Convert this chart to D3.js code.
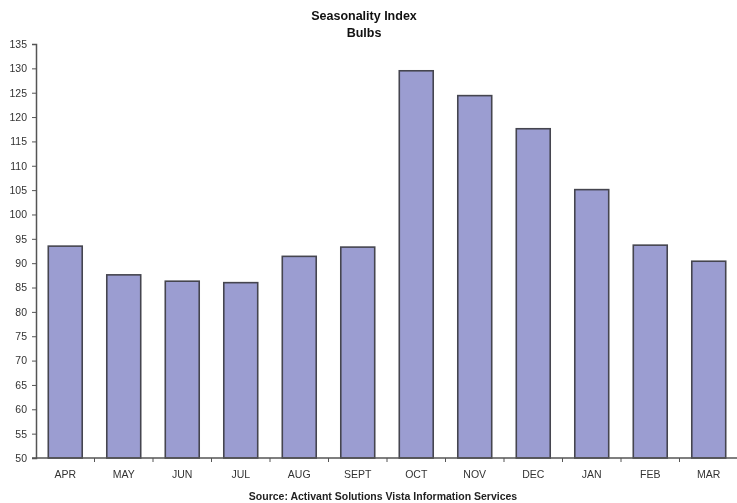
<!DOCTYPE html>
<html>
<head>
<meta charset="utf-8">
<script src="https://cdn.jsdelivr.net/npm/d3@7"></script>
<style>
  html, body { margin: 0; padding: 0; background: #fff; }
  svg { display: block; font-family: "Liberation Sans", Arial, sans-serif; filter: blur(0.45px); }
</style>
</head>
<body>
<svg id="chart" width="737" height="503"></svg>
<script>
// Seasonality index for bulbs, by month of the fiscal year
const months = ["APR", "MAY", "JUN", "JUL", "AUG", "SEPT", "OCT", "NOV", "DEC", "JAN", "FEB", "MAR"];
const indexValues = [93.5, 87.6, 86.3, 86.0, 91.4, 93.3, 129.5, 124.4, 117.6, 105.1, 93.7, 90.4];
const yTicks = d3.range(50, 136, 5);

const titleLines = ["Seasonality Index", "Bulbs"];
const sourceText = "Source:  Activant Solutions Vista Information Services";

const svg = d3.select("#chart");
const margin = { top: 44, left: 36, bottom: 45 };
const W = 737, H = 503;
const plotBottom = H - margin.bottom;   // baseline at value 50

const x = d3.scaleBand()
  .domain(months)
  .range([margin.left, 738])
  .paddingInner(0.42)
  .paddingOuter(0.21);

const y = d3.scaleLinear()
  .domain([50, 135])
  .range([plotBottom, margin.top]);

// Bars
svg.append("g")
  .selectAll("rect")
  .data(months.map((m, i) => ({ m, v: indexValues[i] })))
  .join("rect")
  .attr("x", d => x(d.m))
  .attr("y", d => y(d.v))
  .attr("width", x.bandwidth())
  .attr("height", d => y(50) - y(d.v))
  .attr("fill", "#9b9dd1")
  .attr("stroke", "#45454f")
  .attr("stroke-width", 1.6);

// Y axis
const yAxis = svg.append("g")
  .attr("transform", `translate(${margin.left},0)`)
  .call(d3.axisLeft(y).tickValues(yTicks).tickSize(4).tickPadding(5));
yAxis.select(".domain").attr("stroke", "#555").attr("stroke-width", 1.5);
yAxis.selectAll(".tick line").attr("stroke", "#555").attr("stroke-width", 1);
yAxis.selectAll(".tick text")
  .attr("fill", "#333")
  .style("font-size", "10.5px");

// X axis: tick marks sit between categories, labels under each bar
const step = x.step();
const boundaries = d3.range(1, months.length).map(i => margin.left + i * step);
const xg = svg.append("g");
xg.append("line")
  .attr("x1", margin.left - 4).attr("x2", W)
  .attr("y1", plotBottom).attr("y2", plotBottom)
  .attr("stroke", "#555").attr("stroke-width", 1.5);
xg.selectAll("line.tk")
  .data(boundaries)
  .join("line")
  .attr("class", "tk")
  .attr("x1", d => d).attr("x2", d => d)
  .attr("y1", plotBottom).attr("y2", plotBottom + 4)
  .attr("stroke", "#555").attr("stroke-width", 1);
xg.selectAll("text")
  .data(months)
  .join("text")
  .attr("x", d => x(d) + x.bandwidth() / 2)
  .attr("y", plotBottom + 20)
  .attr("text-anchor", "middle")
  .attr("fill", "#333")
  .style("font-size", "10.5px")
  .text(d => d);

// Title
svg.append("g")
  .selectAll("text")
  .data(titleLines)
  .join("text")
  .attr("x", 364)
  .attr("y", (d, i) => 20 + i * 17)
  .attr("text-anchor", "middle")
  .attr("fill", "#111")
  .style("font-size", "12.5px")
  .style("font-weight", "bold")
  .text(d => d);

// Source note
svg.append("text")
  .attr("x", 383)
  .attr("y", 500)
  .attr("text-anchor", "middle")
  .attr("fill", "#222")
  .style("font-size", "10.5px")
  .style("font-weight", "bold")
  .text(sourceText);
</script>
</body>
</html>
